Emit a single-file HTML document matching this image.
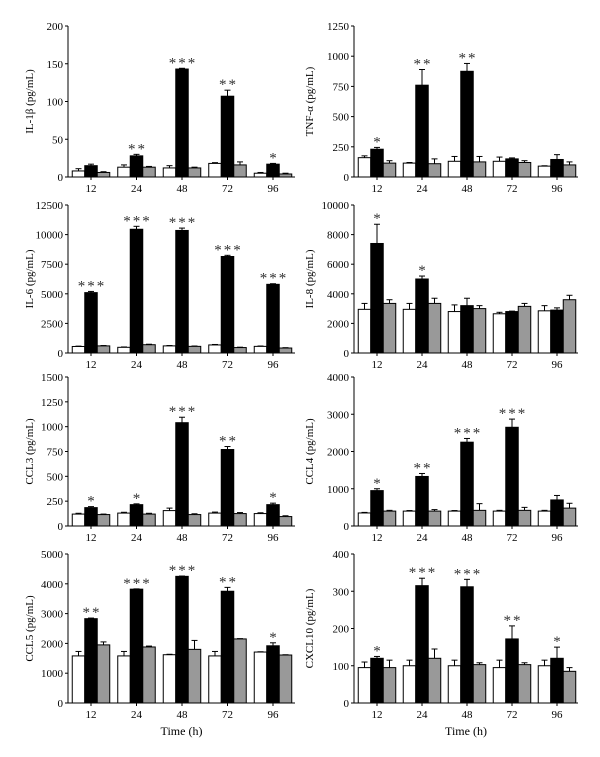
<!DOCTYPE html>
<html><head><meta charset="utf-8"><style>
html,body{margin:0;padding:0;background:#fff;}
svg{display:block;font-family:"Liberation Serif",serif;}
</style></head><body>
<svg id="chart" width="600" height="757" viewBox="0 0 600 757"></svg>
<script>
const categories = ["12","24","48","72","96"];
const panelTitles = ["IL-1\u03B2 (pg/mL)","TNF-\u03B1 (pg/mL)","IL-6 (pg/mL)","IL-8 (pg/mL)","CCL3 (pg/mL)","CCL4 (pg/mL)","CCL5 (pg/mL)","CXCL10 (pg/mL)"];
const axisMax = [200,1250,12500,10000,1500,4000,5000,400];
const axisStep = [50,250,2500,2000,250,1000,1000,100];
const whiteVals = [[8,13,12,18,5],[160,115,130,130,90],[550,480,600,680,560],[2950,2950,2800,2650,2850],[120,130,155,130,125],[350,400,400,400,400],[1580,1580,1620,1580,1710],[95,100,100,95,100]];
const blackVals = [[15,28,143,107,17],[230,760,875,150,145],[5100,10450,10350,8150,5800],[7400,5000,3200,2800,2900],[185,215,1040,770,215],[950,1330,2250,2650,700],[2830,3820,4250,3750,1920],[120,315,312,172,120]];
const grayVals = [[6,13,12,16,4],[115,110,125,120,100],[600,700,560,460,420],[3350,3350,3000,3150,3600],[115,120,115,125,95],[400,400,420,420,480],[1950,1880,1800,2150,1610],[95,120,103,103,85]];
const whiteErr = [[3,3,3,1,1],[15,5,40,35,3],[30,30,30,40,30],[400,400,450,100,350],[8,8,25,10,8],[15,15,15,20,20],[150,150,15,150,10],[15,15,15,20,15]];
const blackErr = [[2,2,1,8,1],[15,130,65,8,40],[100,250,200,100,50],[1300,200,500,30,150],[10,8,55,30,15],[50,80,100,220,120],[20,10,10,130,100],[5,20,20,35,30]];
const grayErr = [[1,1,1,4,1],[20,40,45,15,25],[30,40,30,30,30],[250,350,200,200,300],[5,8,8,10,8],[20,40,180,80,130],[100,30,300,10,10],[20,25,5,5,10]];
const stars = [["","**","***","**","*"],["*","**","**","",""],["***","***","***","***","***"],["*","*","","",""],["*","*","***","**","*"],["*","**","***","***",""],["**","***","***","**","*"],["*","***","***","**","*"]];

const NS="http://www.w3.org/2000/svg";
const svg=document.getElementById('chart');
function mk(tag,attrs,parent){const e=document.createElementNS(NS,tag);for(const k in attrs)e.setAttribute(k,attrs[k]);(parent||svg).appendChild(e);return e;}
const rowTop=[26,205,377,554], rowBot=[177,353,526,703];
const colAxis=[68,354], colEnd=[295,578], colFirst=[91,377], spacing=[45.5,45];
const bw=12.5;
for(let p=0;p<8;p++){
  const r=Math.floor(p/2), c=p%2;
  const g=mk('g',{});
  
  
  const y0=rowBot[r], y1=rowTop[r], ax=colAxis[c];
  const yS=v=>y0-(v/axisMax[p])*(y0-y1);
  const xC=i=>colFirst[c]+i*spacing[c];
  const ya=mk('line',{x1:ax,y1:y1,x2:ax,y2:y0,stroke:'#000','stroke-width':1},g);
  
  
  const xa=mk('line',{x1:ax,y1:y0,x2:colEnd[c],y2:y0,stroke:'#000','stroke-width':1},g);
  
  
  for(let v=0;v<=axisMax[p]+1e-9;v+=axisStep[p]){
    const y=yS(v);
    mk('line',{x1:ax-3,y1:y,x2:ax,y2:y,stroke:'#000'},g);
    const t=mk('text',{x:ax-5,y:y+4,'font-size':11,'text-anchor':'end'},g);
    t.textContent=v;
    
    
  }
  const tt=mk('text',{x:0,y:0,'font-size':11,'text-anchor':'middle',transform:`translate(${c?313:33},${(y0+y1)/2}) rotate(-90)`},g);
  tt.textContent=panelTitles[p];
  
  
  for(let i=0;i<5;i++){
    const cx=xC(i);
    mk('line',{x1:cx,y1:y0,x2:cx,y2:y0+3,stroke:'#000'},g);
    const xl=mk('text',{x:cx,y:y0+15,'font-size':11,'text-anchor':'middle'},g);
    xl.textContent=categories[i];
    
    
    const series=[[whiteVals,whiteErr,'#fff','white'],[blackVals,blackErr,'#000','black'],[grayVals,grayErr,'#999','gray']];
    series.forEach((s,k)=>{
      const v=s[0][p][i], e=s[1][p][i];
      const bx=cx-bw/2+(k-1)*bw;
      const top=yS(v), et=yS(v+e);
      const bm=bx+bw/2;
      mk('line',{x1:bm,y1:top,x2:bm,y2:et,stroke:'#000','stroke-width':1},g);
      mk('line',{x1:bm-3,y1:et,x2:bm+3,y2:et,stroke:'#000','stroke-width':1},g);
      const b=mk('rect',{x:bx,y:top,width:bw,height:y0-top,fill:s[2],stroke:'#000','stroke-width':1},g);
      
      
    });
    if(stars[p][i]){
      const v=blackVals[p][i]+blackErr[p][i];
      const st=mk('text',{x:cx+1,y:yS(v)-1,'font-size':15,'text-anchor':'middle','letter-spacing':2,fill:'#333'},g);
      st.textContent=stars[p][i];
      
      
    }
  }
  if(r===3){
    const xt=mk('text',{x:(ax+colEnd[c])/2,y:y0+32,'font-size':12,'text-anchor':'middle'},g);
    xt.textContent='Time (h)';
    
    
  }
}
</script>
</body></html>
